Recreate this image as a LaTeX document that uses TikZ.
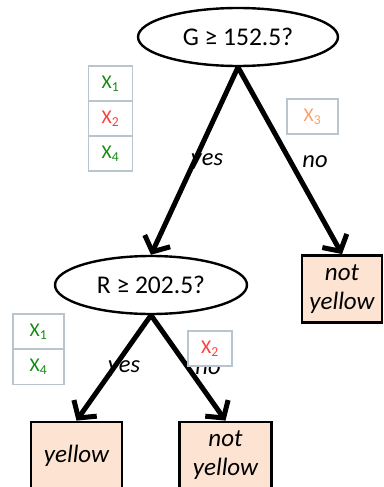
\documentclass[tikz,border=0pt]{standalone}
\usepackage{fontspec}
\setmainfont{Carlito}
\usetikzlibrary{shapes.geometric,arrows.meta}
\definecolor{leaffill}{RGB}{253,228,210}
\definecolor{cellline}{RGB}{184,196,206}
\definecolor{xgreen}{RGB}{20,140,20}
\definecolor{xred}{RGB}{255,60,60}
\definecolor{xorange}{RGB}{255,160,100}
\tikzset{
  test/.style={ellipse, draw=black, line width=2.4pt, fill=white, inner sep=0pt,
    font=\fontsize{25.5}{27}\selectfont},
  leaf/.style={rectangle, draw=black, line width=2.8pt, fill=leaffill, inner sep=0pt,
    align=center, font=\fontsize{25}{29}\selectfont\itshape},
  cell/.style={rectangle, draw=cellline, line width=1.5pt, fill=white, inner sep=0pt,
    minimum width=44pt, minimum height=35pt, font=\fontsize{19.5}{21}\selectfont},
  branch/.style={line width=5pt, -{Straight Barb[length=12pt,width=28pt,line width=5pt]}},
  answer/.style={font=\fontsize{24.5}{26}\selectfont\itshape}
}
\begin{document}
\begin{tikzpicture}[x=1pt,y=-1pt]
  \useasboundingbox (0,0) rectangle (383,487);
  \clip (0,0) rectangle (383,487);

  % tree nodes
  \node[test, minimum width=200pt, minimum height=58pt] (g) at (238,37) {G ≥ 152.5?};
  \node[test, minimum width=192pt, minimum height=58pt] (r) at (151,285) {R ≥ 202.5?};
  \node[leaf, minimum width=80pt, minimum height=67pt] (ny1) at (342,289) {not\\yellow};
  \node[leaf, minimum width=91pt, minimum height=67pt] (y) at (76.5,455.5) {yellow};
  \node[leaf, minimum width=92pt, minimum height=67pt] (ny2) at (225.5,455.5) {not\\yellow};

  % branches
  \draw[branch] (g.south) -- (r.north);
  \draw[branch] (g.south) -- (ny1.north);
  \draw[branch] (r.south) -- (y.north);
  \draw[branch] (r.south) -- (ny2.north);

  % branch answers
  \node[answer] (a1) at (207,162) {yes};
  \node[answer] (a2) at (315,162) {no};
  \node[answer] (a3) at (124,369) {yes};
  \node[answer] (a4) at (208,369) {no};

  % samples reaching each branch
  \node[cell, text=xgreen] (s1) at (110.5,83.5) {X\textsubscript{1}};
  \node[cell, text=xred] (s2) at (110.5,118.5) {X\textsubscript{2}};
  \node[cell, text=xgreen] (s4) at (110.5,153.5) {X\textsubscript{4}};
  \node[cell, minimum width=51pt, text=xorange] (s3) at (312.5,116.5) {X\textsubscript{3}};
  \node[cell, minimum width=51pt, text=xgreen] (t1) at (38.5,331.5) {X\textsubscript{1}};
  \node[cell, minimum width=51pt, text=xgreen] (t4) at (38.5,367) {X\textsubscript{4}};
  \node[cell, text=xred] (t2) at (210,348.5) {X\textsubscript{2}};
\end{tikzpicture}
\end{document}
